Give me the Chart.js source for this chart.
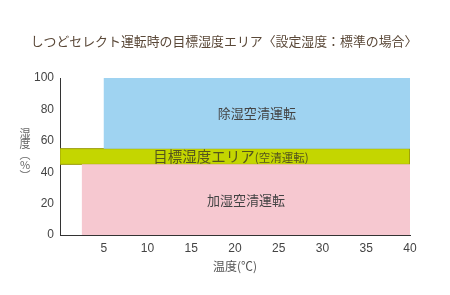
<!DOCTYPE html>
<html><head><meta charset="utf-8">
<script src="https://cdn.jsdelivr.net/npm/chart.js@4/dist/chart.umd.min.js"></script>
<style>html,body{margin:0;padding:0;background:#fff}#wrap{width:450px;height:295px}</style>
</head><body><div id="wrap"><canvas id="c" width="450" height="295"></canvas></div>
<script>
const chartTitle = 'しつどセレクト運転時の目標湿度エリア〈設定湿度：標準の場合〉';
const xAxisTitle = '温度(℃)';
const yAxisTitleChars = ['湿', '度', '︵', '%', '︶'];
const regionNames = ['除湿空清運転', '加湿空清運転', '目標湿度エリア'];
const regionSubNames = ['', '', '(空清運転)'];
const xStart = [5, 2.5, 0];
const xEnd = [40, 40, 40];
const yLow = [55, 0, 45];
const yHigh = [100, 45, 55];
const regionColors = ['#9fd3f1', '#f6c8d0', '#c4d600'];
const regionBorders = ['#9fd3f1', '#f6c8d0', '#9a9a08'];
const regionBorderWidths = [0, 0, 1];
const xTicks = [5, 10, 15, 20, 25, 30, 35, 40];
const yTicks = [0, 20, 40, 60, 80, 100];

const datasets = regionNames.map((n, i) => ({
  label: n,
  data: [
    {x: xStart[i], y: yLow[i]}, {x: xStart[i], y: yHigh[i]},
    {x: xEnd[i], y: yHigh[i]}, {x: xEnd[i], y: yLow[i]}, {x: xStart[i], y: yLow[i]}
  ],
  showLine: true,
  fill: 'shape',
  backgroundColor: regionColors[i],
  borderColor: regionBorders[i],
  borderWidth: regionBorderWidths[i],
  pointRadius: 0,
  tension: 0
}));

const labelPlugin = {
  id: 'regionLabels',
  afterDatasetsDraw(chart) {
    const {ctx, scales: {x, y}} = chart;
    ctx.save();
    regionNames.forEach((n, i) => {
      const cx = (x.getPixelForValue(xStart[i]) + x.getPixelForValue(xEnd[i])) / 2;
      const cy = (y.getPixelForValue(yLow[i]) + y.getPixelForValue(yHigh[i])) / 2;
      ctx.textBaseline = 'alphabetic';
      if (regionSubNames[i]) {
        ctx.font = '14.5px "Noto Sans CJK JP"';
        const w1 = ctx.measureText(n).width;
        ctx.font = '11.5px "Noto Sans CJK JP"';
        const w2 = ctx.measureText(regionSubNames[i]).width;
        let sx = cx - 4 - (w1 + w2) / 2;
        ctx.fillStyle = '#55551c';
        ctx.textAlign = 'left';
        ctx.font = '14.5px "Noto Sans CJK JP"';
        ctx.fillText(n, sx, cy + 5);
        ctx.font = '11.5px "Noto Sans CJK JP"';
        ctx.fillText(regionSubNames[i], sx + w1, cy + 5);
      } else {
        ctx.fillStyle = '#444';
        ctx.textAlign = 'center';
        ctx.font = '13px "Noto Sans CJK JP"';
        ctx.fillText(n, cx, cy + 5);
      }
    });
    // vertical y-axis title
    ctx.fillStyle = '#666';
    ctx.textAlign = 'center';
    ctx.textBaseline = 'middle';
    ctx.font = '11px "Noto Sans CJK JP"';
    const midY = (y.top + y.bottom) / 2 - 2;
    const step = 10.5;
    const x0 = 25;
    yAxisTitleChars.forEach((ch, k) => {
      ctx.fillText(ch, x0, midY + (k - (yAxisTitleChars.length - 1) / 2) * step);
    });
    // chart title
    ctx.fillStyle = '#5a4838';
    ctx.font = '12.9px "Noto Sans CJK JP"';
    ctx.fillText(chartTitle, chart.width / 2 - 1, 41);
    ctx.restore();
  }
};

new Chart(document.getElementById('c'), {
  type: 'scatter',
  data: {datasets},
  plugins: [labelPlugin],
  options: {
    responsive: false,
    animation: false,
    events: [],
    layout: {padding: {left: 0, right: 40, top: 78, bottom: 21}},
    plugins: {
      legend: {display: false},
      tooltip: {enabled: false},
      title: {display: false}
    },
    scales: {
      x: {
        type: 'linear', min: 0, max: 40,
        afterFit: s => { s.height = 39; },
        afterBuildTicks: s => { s.ticks = xTicks.map(v => ({value: v})); },
        grid: {display: false, drawTicks: false},
        border: {display: true, color: '#333', width: 1},
        ticks: {color: '#444', font: {family: 'Arial', size: 12}, padding: 6, maxRotation: 0},
        title: {display: true, text: xAxisTitle, color: '#555', font: {family: '"Noto Sans CJK JP"', size: 12}, padding: {top: 2, bottom: 0}}
      },
      y: {
        type: 'linear', min: 0, max: 100,
        afterFit: s => { s.width = 60; },
        afterBuildTicks: s => { s.ticks = yTicks.map(v => ({value: v})); },
        grid: {display: false, drawTicks: false},
        border: {display: true, color: '#333', width: 1},
        ticks: {color: '#444', font: {family: 'Arial', size: 12}, padding: 6}
      }
    }
  }
});
</script></body></html>
